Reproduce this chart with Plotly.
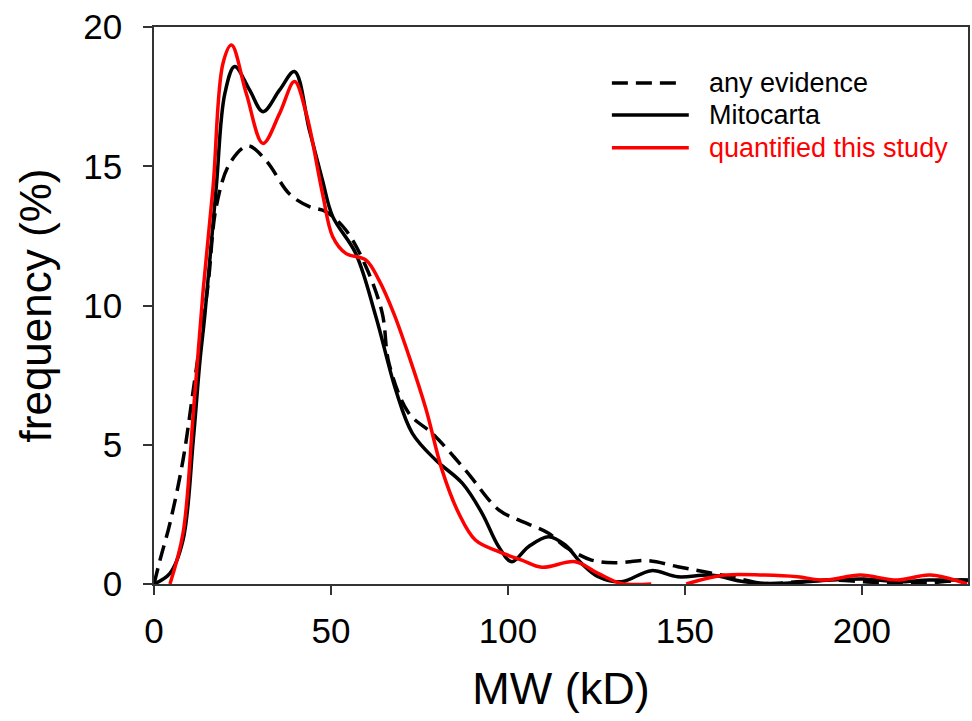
import plotly.graph_objects as go

# MW distributions (kD vs frequency %)
x_any = [0, 1.7, 4.5, 8.2, 11.1, 15.2, 17.6, 21.4, 26.5, 31.7, 38.3, 43.9, 48.6, 54.2,
         59.9, 64.5, 66.4, 72, 78.6, 88, 97.4, 103, 111.5, 116.2, 123.6, 130.2, 139.6,
         148, 155.5, 163, 172.4, 181.8, 191, 200.6, 210, 219, 228.7, 230]
y_any = [0, 0.86, 2.18, 4.45, 6.97, 10.67, 13.55, 15.1, 15.73, 15.2, 14.0, 13.55, 13.37, 12.71,
         11.39, 9.72, 7.92, 6.13, 5.41, 4.09, 2.66, 2.3, 1.82, 1.34, 0.86, 0.76, 0.84,
         0.62, 0.44, 0.26, 0.02, 0.08, 0.14, 0.08, 0.02, 0.04, 0.14, 0.12]

x_mito = [0, 4.5, 8.2, 11.1, 12.9, 14.4, 17.6, 20, 22.8, 27, 30.8, 35.5, 39.7, 43.9, 47.6,
          50.5, 57, 62.7, 68.3, 73, 79.6, 87.1, 92.7, 97.4, 101.1, 105.8, 111.5,
          116.2, 120.8, 125.5, 132.1, 140.5, 148, 157.4, 166.8, 177.1, 191, 200.6, 210,
          219, 230]
y_mito = [0, 0.38, 1.58, 5.17, 7.9, 9.7, 14.27, 17.6, 18.58, 17.74, 16.96, 17.74, 18.4, 16.3, 14.5,
          13.19, 11.87, 9.6, 6.97, 5.41, 4.45, 3.62, 2.54, 1.34, 0.8, 1.34, 1.7,
          1.4, 0.74, 0.26, 0.08, 0.48, 0.26, 0.32, 0.08, 0.02, 0.14, 0.18, 0.08,
          0.14, 0.14]

# red curve has a gap between ~140 and ~150 kD (dropped below zero)
x_quant = [4.5, 8.2, 11.1, 13.9, 16.7, 19.5, 21.9, 26.1, 30.8, 35.5, 39.7, 43, 47.6, 50.5,
           54.2, 59.9, 63.6, 67.8, 72, 76.8, 81.4, 86.1, 90.8, 97.4, 103.9, 109.6, 119,
           125.5, 132, 140.5, None,
           150.4, 161.2, 172.4, 181.8, 189.3, 199.6, 210, 219.3, 229.7]
y_quant = [0, 1.82, 6.13, 10.56, 14.27, 18.7, 19.35, 17.6, 15.82, 16.9, 18.04, 16.9, 14.03, 12.47,
           11.87, 11.63, 10.9, 9.7, 8.2, 6.3, 4.09, 2.54, 1.58, 1.16, 0.86, 0.6, 0.8,
           0.38, 0.02, 0, None,
           0, 0.32, 0.32, 0.26, 0.14, 0.32, 0.14, 0.32, 0]

series_names = ["any evidence", "Mitocarta", "quantified this study"]
x_ticks = [0, 50, 100, 150, 200]
y_ticks = [0, 5, 10, 15, 20]

FONT = "Arial, Liberation Sans, sans-serif"
DASH = "16px,8px"

fig = go.Figure()

fig.add_trace(go.Scatter(x=x_any, y=y_any, mode="lines", name=series_names[0],
                         line=dict(color="black", width=3.5, dash=DASH, shape="spline")))
fig.add_trace(go.Scatter(x=x_mito, y=y_mito, mode="lines", name=series_names[1],
                         line=dict(color="black", width=3.5, shape="spline")))
fig.add_trace(go.Scatter(x=x_quant, y=y_quant, mode="lines", name=series_names[2],
                         connectgaps=False,
                         line=dict(color="#ff0000", width=3.5, shape="spline")))

# hand-made legend (longer line samples than plotly's own legend)
legend_rows = [
    (series_names[0], "black", DASH, 0.8995, 0.648),
    (series_names[1], "black", "solid", 0.842, 0.657),
    (series_names[2], "#ff0000", "solid", 0.783, 0.657),
]
for label, color, dash, yy, x_end in legend_rows:
    fig.add_shape(type="line", xref="paper", yref="paper",
                  x0=0.5625, x1=x_end, y0=yy, y1=yy,
                  line=dict(color=color, width=3.5, dash=dash))
    fig.add_annotation(text=label, xref="paper", yref="paper", x=0.679, y=yy,
                       xanchor="left", yanchor="middle", showarrow=False,
                       font=dict(family=FONT, size=27, color=color))

fig.update_layout(
    width=972, height=721,
    margin=dict(l=154, r=2, t=27, b=137),
    plot_bgcolor="white", paper_bgcolor="white",
    showlegend=False,
    font=dict(family=FONT, color="black"),
    xaxis=dict(
        range=[0, 230], tickvals=x_ticks, ticks="outside", ticklen=9, tickwidth=1.5,
        tickcolor="#333", showline=True, linecolor="#333", linewidth=1.5, mirror=True,
        showgrid=False, zeroline=False, tickfont=dict(size=35), ticklabelstandoff=6,
        title=dict(text="MW (kD)", font=dict(size=45), standoff=24),
    ),
    yaxis=dict(
        range=[0, 20], tickvals=y_ticks, ticks="outside", ticklen=9, tickwidth=1.5,
        tickcolor="#333", showline=True, linecolor="#333", linewidth=1.5, mirror=True,
        showgrid=False, zeroline=False, tickfont=dict(size=35), ticklabelstandoff=14,
        title=dict(text="frequency (%)", font=dict(size=44), standoff=18),
    ),
)

# page body has an 8px default margin; drop it so the figure fills the window exactly
fig.write_html("out.html", config={"displayModeBar": False},
               post_script="document.body.style.margin='0';document.body.style.overflow='hidden';")
